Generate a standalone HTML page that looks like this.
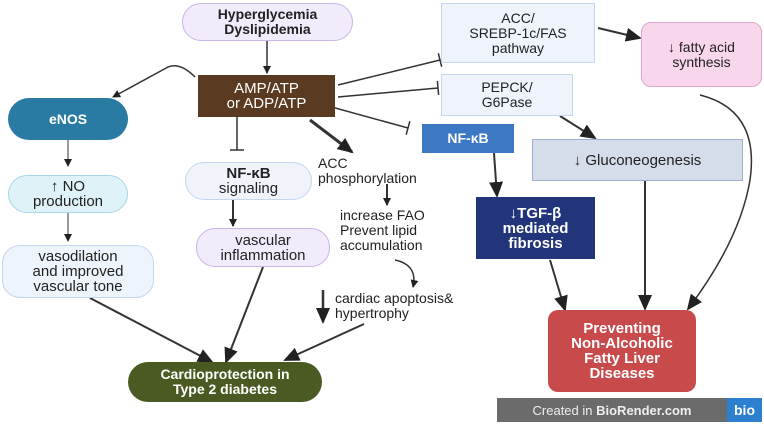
<!DOCTYPE html>
<html><head><style>
body{margin:0;width:764px;height:424px;background:#fff;overflow:hidden;position:relative;font-family:"Liberation Sans",sans-serif;}
.b{position:absolute;display:flex;align-items:center;justify-content:center;text-align:center;box-sizing:border-box;font-size:14px;line-height:15px;color:#222;}
.t{position:absolute;font-size:14px;line-height:15px;color:#222;}
svg{position:absolute;left:0;top:0;}
</style></head><body>
<svg width="764" height="424">
<defs>
<marker id="a" markerWidth="8" markerHeight="8" refX="7" refY="4" orient="auto" markerUnits="userSpaceOnUse"><path d="M0,0L8,4L0,8z" fill="#222"/></marker>
<marker id="A" markerWidth="16" markerHeight="14" refX="14" refY="7" orient="auto" markerUnits="userSpaceOnUse"><path d="M0,0L16,7L0,14z" fill="#222"/></marker>
<marker id="T" markerWidth="4" markerHeight="14" refX="2" refY="7" orient="auto" markerUnits="userSpaceOnUse"><path d="M2,0L2,14" stroke="#333" stroke-width="1.5"/></marker>
</defs>
<g stroke="#333" fill="none" stroke-width="1.5">
<line x1="267" y1="41" x2="267" y2="73" marker-end="url(#a)"/>
<path d="M195,77 Q180,62 168,67 L113,97" marker-end="url(#a)"/>
<line x1="338" y1="85" x2="440" y2="60" marker-end="url(#T)"/>
<line x1="338" y1="97" x2="438" y2="88" marker-end="url(#T)"/>
<line x1="328" y1="106" x2="408" y2="128" marker-end="url(#T)"/>
<line x1="237" y1="117" x2="237" y2="150" marker-end="url(#T)"/>
<line x1="310" y1="120" x2="352" y2="152" stroke-width="3" marker-end="url(#A)"/>
<line x1="68" y1="140" x2="68" y2="166" stroke-width="1" marker-end="url(#a)"/>
<line x1="68" y1="213" x2="68" y2="241" stroke-width="1" marker-end="url(#a)"/>
<line x1="233" y1="200" x2="233" y2="226" stroke-width="2" marker-end="url(#a)"/>
<line x1="387" y1="184" x2="387" y2="205" stroke-width="2" marker-end="url(#a)"/>
<path d="M395,260 Q418,265 413,287" marker-end="url(#a)"/>
<line x1="323" y1="290" x2="323" y2="322" stroke-width="2.5" marker-end="url(#A)"/>
<line x1="90" y1="298" x2="212" y2="362" stroke-width="2" marker-end="url(#A)"/>
<line x1="263" y1="267" x2="226" y2="362" stroke-width="2" marker-end="url(#A)"/>
<line x1="364" y1="324" x2="285" y2="360" stroke-width="2" marker-end="url(#A)"/>
<line x1="598" y1="28" x2="640" y2="38" stroke-width="2" marker-end="url(#A)"/>
<line x1="560" y1="116" x2="595" y2="138" stroke-width="2" marker-end="url(#A)"/>
<line x1="494" y1="153" x2="497" y2="196" stroke-width="2" marker-end="url(#A)"/>
<line x1="550" y1="260" x2="565" y2="310" stroke-width="2" marker-end="url(#A)"/>
<line x1="645" y1="181" x2="645" y2="309" stroke-width="2" marker-end="url(#A)"/>
<path d="M700,95 Q760,110 750,180 Q740,240 688,309" stroke-width="1.5" marker-end="url(#A)"/>
</g>
</svg>
<div class="b" style="left:182px;top:3px;width:171px;height:38px;border-radius:19px;background:#f1ebfb;border:1.5px solid #c9b6e6;font-weight:bold;font-size:14px;">Hyperglycemia<br>Dyslipidemia</div>
<div class="b" style="left:198px;top:75px;width:137px;height:42px;background:#5b3a22;color:#fff;font-size:15px;">AMP/ATP<br>or ADP/ATP</div>
<div class="b" style="left:8px;top:98px;width:120px;height:42px;border-radius:21px;background:#2a7ba3;color:#fff;font-weight:bold;">eNOS</div>
<div class="b" style="left:8px;top:175px;width:120px;height:38px;border-radius:19px;background:#dff2f8;border:1.5px solid #a8d6e6;font-size:15px;">↑ NO<br>production</div>
<div class="b" style="left:2px;top:245px;width:152px;height:53px;border-radius:18px;background:#eef4fc;border:1.5px solid #c5d6ef;font-size:15px;">vasodilation<br>and improved<br>vascular tone</div>
<div class="b" style="left:185px;top:162px;width:127px;height:38px;border-radius:19px;background:#f0f4fa;border:1.5px solid #c5d6ef;font-size:15px;"><span><b>NF-κB</b><br>signaling</span></div>
<div class="b" style="left:196px;top:228px;width:134px;height:39px;border-radius:19px;background:#f1ebfb;border:1.5px solid #c9b6e6;font-size:15px;">vascular<br>inflammation</div>
<div class="t" style="left:318px;top:156px;">ACC<br>phosphorylation</div>
<div class="t" style="left:340px;top:208px;">increase FAO<br>Prevent lipid<br>accumulation</div>
<div class="t" style="left:335px;top:291px;">cardiac apoptosis&amp;<br>hypertrophy</div>
<div class="b" style="left:128px;top:362px;width:194px;height:40px;border-radius:20px;background:#4a5a22;color:#fff;font-weight:bold;font-size:14px;">Cardioprotection in<br>Type 2 diabetes</div>
<div class="b" style="left:441px;top:3px;width:154px;height:60px;background:#eef3fc;border:1.5px solid #c5d6ef;font-size:14px;">ACC/<br>SREBP-1c/FAS<br>pathway</div>
<div class="b" style="left:441px;top:74px;width:132px;height:42px;background:#eef3fc;border:1.5px solid #c5d6ef;">PEPCK/<br>G6Pase</div>
<div class="b" style="left:422px;top:124px;width:92px;height:29px;background:#3d78c4;color:#fff;font-weight:bold;">NF-κB</div>
<div class="b" style="left:532px;top:139px;width:211px;height:42px;background:#d5dcea;border:1.5px solid #9eaed0;font-size:15px;">↓ Gluconeogenesis</div>
<div class="b" style="left:641px;top:22px;width:121px;height:65px;border-radius:10px;background:#f8d6ec;border:1.5px solid #e2a6cf;font-size:14px;">↓ fatty acid<br>synthesis</div>
<div class="b" style="left:476px;top:197px;width:119px;height:62px;background:#23357a;color:#fff;font-weight:bold;font-size:15px;">↓TGF-β<br>mediated<br>fibrosis</div>
<div class="b" style="left:548px;top:310px;width:148px;height:82px;border-radius:10px;background:#c94a4a;color:#fff;font-weight:bold;font-size:15px;">Preventing<br>Non-Alcoholic<br>Fatty Liver<br>Diseases</div>
<div class="b" style="left:497px;top:398px;width:230px;height:24px;background:#6b6b6b;color:#eee;font-size:13px;">Created in&nbsp;<b>BioRender.com</b></div>
<div class="b" style="left:727px;top:398px;width:35px;height:24px;background:#2d7fd0;color:#fff;font-weight:bold;">bio</div>
</body></html>
